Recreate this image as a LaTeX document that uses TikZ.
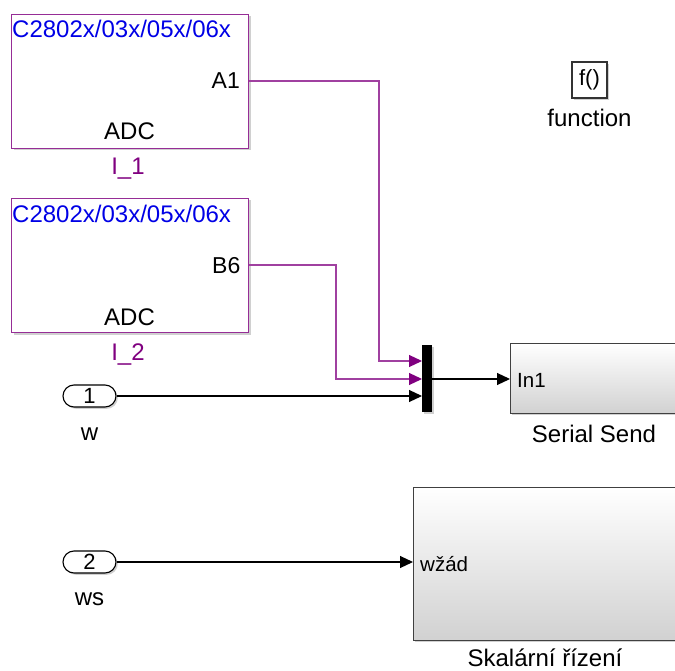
\documentclass[tikz,border=0pt]{standalone}
\usepackage{fontspec}
\setmainfont{Liberation Sans}
\usetikzlibrary{arrows.meta,shadows}
\definecolor{sfblue}{RGB}{0,0,230}
\definecolor{sfpurple}{RGB}{128,0,128}
\definecolor{sfborder}{RGB}{150,45,150}
\newcommand\fsz[1]{\fontsize{#1pt}{#1pt}\selectfont}
\begin{document}
\begin{tikzpicture}[x=1pt,y=-1pt,
  shd/.style={drop shadow={shadow xshift=1.8pt,shadow yshift=-1.8pt,opacity=0.3,fill=black!60}},
  adcblock/.style={draw=sfborder, line width=1.4pt, fill=white, shd, inner sep=0, anchor=north west, minimum width=237pt, minimum height=134pt},
  subsys/.style={draw=black!75, line width=1.3pt, top color=white, bottom color=black!18, shd, inner sep=0, anchor=north west},
  fnbox/.style={draw=black!80, line width=1.2pt, fill=white, shd, inner sep=0, minimum width=35pt, minimum height=36pt, font=\fsz{22}},
  muxbar/.style={fill=black, inner sep=0, anchor=north west, minimum width=10pt, minimum height=67pt, shd},
  inport/.style={draw=black, line width=1.1pt, fill=white, rounded corners=11pt, minimum width=53pt, minimum height=22pt, inner sep=0, shd, font=\fsz{22}},
  lbl/.style={inner sep=0, font=\fsz{24}},
  plbl/.style={inner sep=0, font=\fsz{23}},
  slbl/.style={inner sep=0, font=\fsz{20.5}},
  pwire/.style={draw=sfpurple!75, line width=1.1pt, -{Triangle[length=13pt,width=12pt,fill=sfpurple,color=sfpurple]}},
  bwire/.style={draw=black, line width=1.1pt, -{Triangle[length=13pt,width=12pt]}}
]
\clip (0,0) rectangle (675,671);
\fill[white] (0,0) rectangle (675,671);

% ADC blocks
\node[adcblock] (adc1) at (11,14) {};
\node[adcblock] (adc2) at (11,198) {};
\node[lbl, text=sfblue, anchor=base west] (t1) at (12,38) {C2802x/03x/05x/06x};
\node[plbl, anchor=base east] (pa1) at (240,89) {A1};
\node[lbl, anchor=base] (adcl1) at (129.5,140) {ADC};
\node[lbl, text=sfpurple, anchor=base] (n1) at (128,175) {I\_1};
\node[lbl, text=sfblue, anchor=base west] (t2) at (12,223) {C2802x/03x/05x/06x};
\node[plbl, anchor=base east] (pb6) at (240.5,273) {B6};
\node[lbl, anchor=base] (adcl2) at (129.5,325) {ADC};
\node[lbl, text=sfpurple, anchor=base] (n2) at (128,360) {I\_2};

% function block
\node[fnbox] (fn) at (589.5,80) {f()};
\node[lbl, anchor=base] (fnl) at (589.5,127) {function};

% Mux
\node[muxbar] (mux) at (422,345) {};

% Serial Send
\node[subsys, minimum width=167pt, minimum height=70pt] (serial) at (510,343) {};
\node[slbl, anchor=base west] (in1) at (517,387) {In1};
\node[lbl, anchor=base] (serl) at (594,442) {Serial Send};

% Skalarni rizeni
\node[subsys, minimum width=264pt, minimum height=153pt] (skal) at (413,487) {};
\node[slbl, anchor=base west] (wzad) at (420,571) {wžád};
\node[lbl, anchor=base] (skall) at (545,666) {Skalární řízení};

% Inports
\node[inport] (ip1) at (89.5,396) {1};
\node[lbl, anchor=base] (wl) at (89.5,440) {w};
\node[inport] (ip2) at (89.5,562) {2};
\node[lbl, anchor=base] (wsl) at (89.5,605) {ws};

% ports
\coordinate (a1) at (adc1.east |- 0,81);
\coordinate (b6) at (adc2.east |- 0,265);
\coordinate (m1) at (mux.west |- 0,361);
\coordinate (m2) at (mux.west |- 0,379);
\coordinate (m3) at (mux.west |- 0,396);
\coordinate (mo) at (mux.east |- 0,379);
\coordinate (si) at (serial.west |- 0,379);
\coordinate (ki) at (skal.west |- 0,562);

% connectors
\draw[pwire] (a1) -- (379,81) -- (379,361) -- (m1);
\draw[pwire] (b6) -- (336,265) -- (336,379) -- (m2);
\draw[bwire] (ip1.east) -- (m3);
\draw[bwire] (mo) -- (si);
\draw[bwire] (ip2.east) -- (ki);
\end{tikzpicture}
\end{document}
